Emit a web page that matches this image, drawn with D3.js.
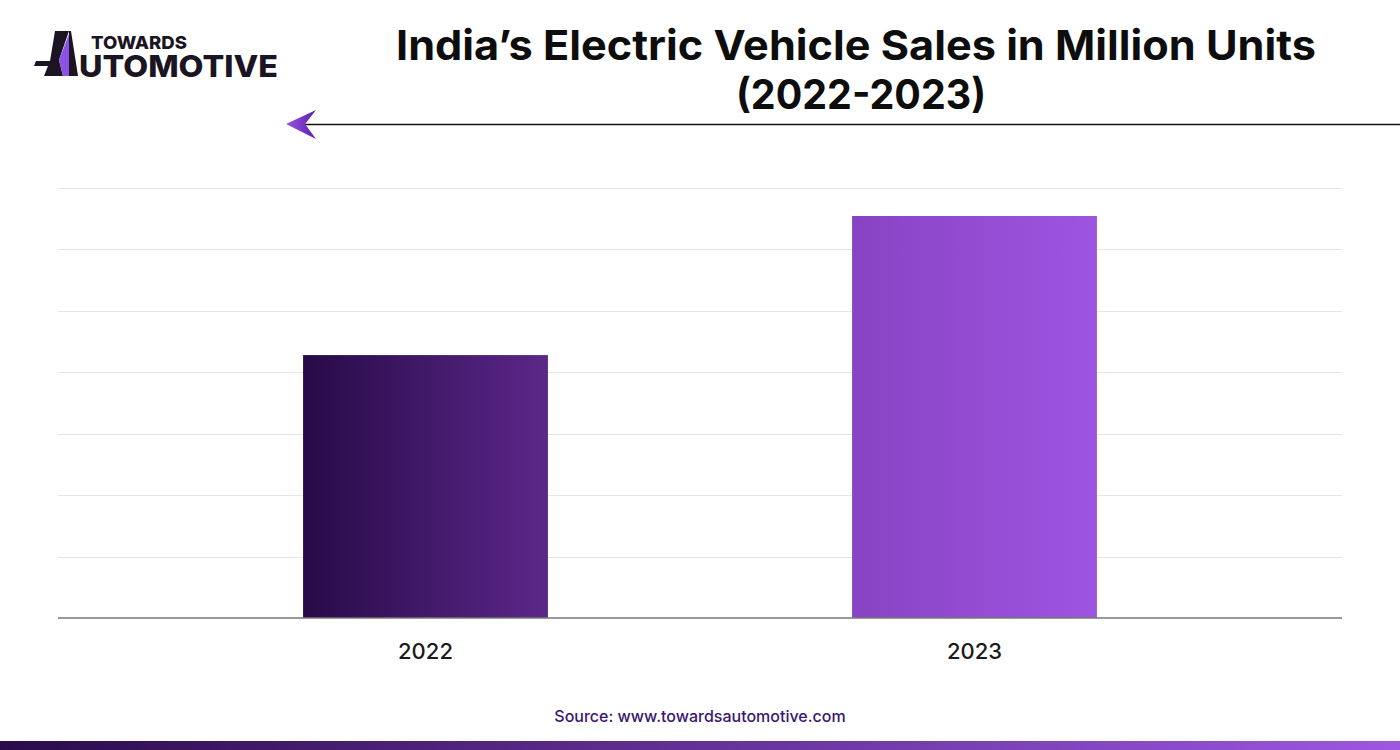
<!DOCTYPE html>
<html><head><meta charset="utf-8">
<script src="https://cdn.jsdelivr.net/npm/d3@7"></script>
<style>body{margin:0;background:#fff;}svg{display:block;}</style>
</head><body>
<script>
const categories = ["2022", "2023"];
const values = [1.07, 1.636];
const yTicks = [0, 0.25, 0.5, 0.75, 1.0, 1.25, 1.5, 1.75];
const title1 = "India\u2019s Electric Vehicle Sales in Million Units";
const title2 = "(2022-2023)";
const source = "Source: www.towardsautomotive.com";

const W = 1400, H = 750;
const svg = d3.select("body").append("svg").attr("width", W).attr("height", H);
const defs = svg.append("defs");
function grad(id, c1, c2){
  const g = defs.append("linearGradient").attr("id", id).attr("x1","0").attr("x2","1").attr("y1","0").attr("y2","0");
  g.append("stop").attr("offset","0").attr("stop-color", c1);
  g.append("stop").attr("offset","1").attr("stop-color", c2);
}
grad("g2022", "#270a48", "#5b2889");
grad("g2023", "#8843c4", "#9d55e0");
grad("gfoot", "#2a0b4a", "#9c58e0");
grad("garrow", "#9a55e0", "#5a1fb0");

const x = d3.scaleBand().domain(categories).range([151, 1249]).paddingInner(0.554).paddingOuter(0.277);
const y = d3.scaleLinear().domain([0, 1.75]).range([618, 188]);

// gridlines
svg.append("g").selectAll("line").data(yTicks.slice(1)).join("line")
  .attr("x1", 58).attr("x2", 1342)
  .attr("y1", d => Math.round(y(d)) + 0.5).attr("y2", d => Math.round(y(d)) + 0.5)
  .attr("stroke", "#e6e6e6").attr("stroke-width", 1);

// bars
svg.append("g").selectAll("rect").data(categories).join("rect")
  .attr("x", d => x(d)).attr("width", x.bandwidth())
  .attr("y", (d,i) => y(values[i])).attr("height", (d,i) => y(0) - y(values[i]))
  .attr("fill", d => `url(#g${d})`);

// baseline
svg.append("line").attr("x1", 58).attr("x2", 1342).attr("y1", 618).attr("y2", 618)
  .attr("stroke", "#777").attr("stroke-width", 1.5);

// x axis
const xAxis = d3.axisBottom(x).tickSize(0).tickPadding(25);
const gx = svg.append("g").attr("transform", "translate(0,618)").call(xAxis);
gx.select(".domain").remove();
gx.selectAll("text").attr("font-family", "Inter, 'Noto Sans', sans-serif").attr("font-size", 22)
  .attr("fill", "#1a1a1a").attr("font-weight", 500);

// title
svg.append("text").attr("x", 856).attr("y", 60).attr("text-anchor", "middle")
  .attr("font-family", "Inter, 'Noto Sans', sans-serif").attr("font-weight", 700).attr("font-size", 41)
  .attr("textLength", 920).attr("lengthAdjust", "spacingAndGlyphs")
  .attr("fill", "#0d0d0d").text(title1);
svg.append("text").attr("x", 861).attr("y", 109).attr("text-anchor", "middle")
  .attr("font-family", "Inter, 'Noto Sans', sans-serif").attr("font-weight", 700).attr("font-size", 41)
  .attr("textLength", 250).attr("lengthAdjust", "spacingAndGlyphs")
  .attr("fill", "#0d0d0d").text(title2);

// arrow line
svg.append("line").attr("x1", 305).attr("x2", 1400).attr("y1", 124.5).attr("y2", 124.5)
  .attr("stroke", "#111").attr("stroke-width", 1.5);
svg.append("path").attr("d", "M286,124 L316,110 L305,124 L316,139 Z").attr("fill", "url(#garrow)");

// logo
const logo = svg.append("g");
logo.append("path").attr("d", "M55,31 L69,31 L59,60 L63,76 L44,76 L48,66 L34,66 L36,61 L50,61 Z").attr("fill", "#1a1423");
logo.append("path").attr("d", "M69,34 L59,60 L63,76 L69,76 Z").attr("fill", "#8b52e6");
logo.append("path").attr("d", "M69,31 L71,31 L78,76 L69,76 Z").attr("fill", "#1a1423");
logo.append("text").attr("x", 91).attr("y", 49).attr("font-family", "Inter, sans-serif")
  .attr("font-weight", 800).attr("font-size", 18).attr("fill", "#1a1423")
  .attr("textLength", 96).attr("lengthAdjust", "spacingAndGlyphs").text("TOWARDS");
logo.append("text").attr("x", 79).attr("y", 77).attr("font-family", "Inter, sans-serif")
  .attr("font-weight", 800).attr("font-size", 30).attr("fill", "#1a1423").attr("textLength", 199)
  .attr("lengthAdjust", "spacingAndGlyphs").text("UTOMOTIVE");

// source
svg.append("text").attr("x", 700).attr("y", 722).attr("text-anchor", "middle")
  .attr("font-family", "Inter, 'Noto Sans', sans-serif").attr("font-weight", 500).attr("font-size", 16)
  .attr("fill", "#3a1670").text(source);

// footer bar
svg.append("rect").attr("x", 0).attr("y", 741).attr("width", W).attr("height", 9).attr("fill", "url(#gfoot)");
</script>
</body></html>
